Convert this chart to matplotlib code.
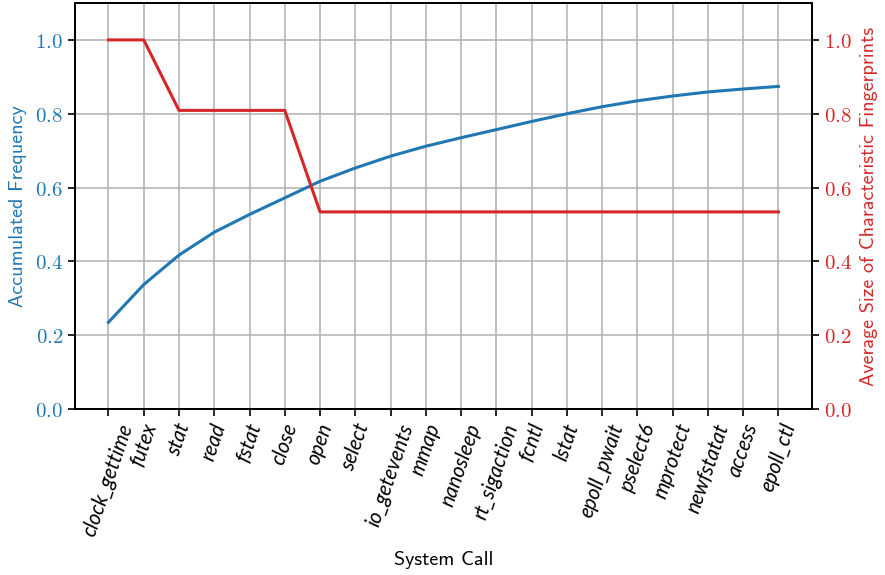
import matplotlib
matplotlib.use("Agg")
import matplotlib.pyplot as plt
from matplotlib.ticker import FormatStrFormatter, MultipleLocator

plt.rcParams["mathtext.fontset"] = "cm"

syscalls = ["clock_gettime", "futex", "stat", "read", "fstat", "close", "open",
            "select", "io_getevents", "mmap", "nanosleep", "rt_sigaction", "fcntl",
            "lstat", "epoll_pwait", "pselect6", "mprotect", "newfstatat", "access",
            "epoll_ctl"]
accumulated_freq = [0.235, 0.337, 0.417, 0.479, 0.527, 0.572, 0.617, 0.653, 0.685,
                    0.712, 0.735, 0.757, 0.779, 0.800, 0.819, 0.835, 0.848, 0.859,
                    0.867, 0.874]
avg_fingerprint_size = [1.0, 1.0, 0.809, 0.809, 0.809, 0.809, 0.534, 0.534, 0.534,
                        0.534, 0.534, 0.534, 0.534, 0.534, 0.534, 0.534, 0.534, 0.534,
                        0.534, 0.534]

blue = "#1f77b4"
red = "#d62728"
label_font = "cmss10"

fig = plt.figure(figsize=(8.85, 5.75), dpi=100)
fig.subplots_adjust(left=0.0847, right=0.9175, top=0.9948, bottom=0.2887)
ax1 = fig.add_subplot(111)
ax2 = ax1.twinx()

x = list(range(len(syscalls)))
ax1.plot(x, accumulated_freq, color=blue, lw=2.2)
ax2.plot(x, avg_fingerprint_size, color=red, lw=2.2)

for ax in (ax1, ax2):
    ax.set_ylim(0, 1.1)
    ax.yaxis.set_major_locator(MultipleLocator(0.2))
    ax.yaxis.set_major_formatter(FormatStrFormatter(r"$%.1f$"))
    for s in ax.spines.values():
        s.set_linewidth(1.3)
    ax.tick_params(length=5, width=1.2, labelsize=15)

ax1.set_xlim(-0.95, len(syscalls) - 0.05)
ax1.set_xticks(x)
ax1.set_xticklabels(syscalls, rotation=71, fontsize=14.8, family="Lato",
                    style="italic")
ax1.grid(True, color="#b0b0b0", lw=1.1)
ax1.set_axisbelow(True)

ax1.tick_params(axis="y", labelcolor=blue)
ax2.tick_params(axis="y", labelcolor=red)

ax1.set_xlabel("System Call", fontsize=14.5, family=label_font, labelpad=9)
ax1.set_ylabel("Accumulated Frequency", fontsize=14.5, family=label_font,
               color=blue, labelpad=6)
ax2.set_ylabel("Average Size of Characteristic Fingerprints", fontsize=14.5,
               family=label_font, color=red, labelpad=6)

fig.savefig("out.png", dpi=100)
